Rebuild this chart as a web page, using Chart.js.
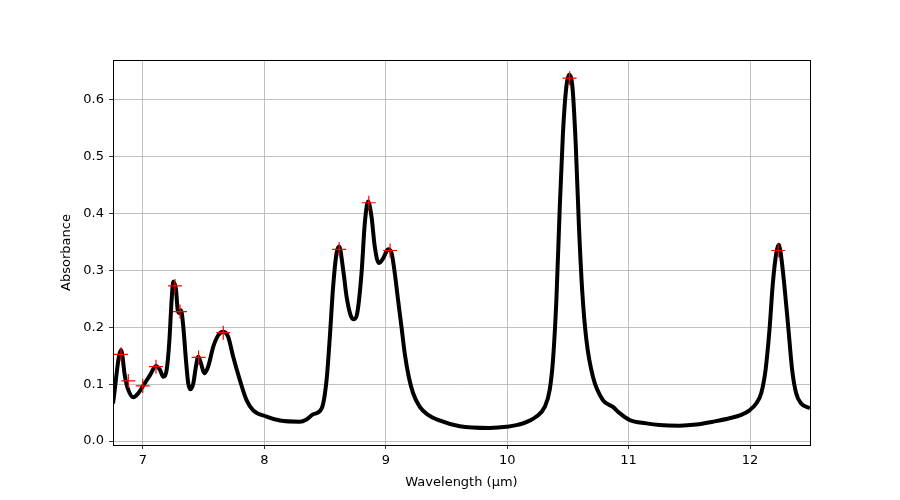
<!DOCTYPE html>
<html><head><meta charset="utf-8">
<script src="https://cdn.jsdelivr.net/npm/chart.js@4/dist/chart.umd.min.js"></script>
<style>html,body{margin:0;padding:0;background:#fff}canvas{display:block}</style>
</head><body>
<canvas id="c" width="900" height="500"></canvas>
<script>
const wavelength = [6.753,6.819,6.852,6.879,6.920,6.961,6.998,7.058,7.107,7.140,7.167,7.195,7.216,7.236,7.249,7.272,7.286,7.299,7.313,7.332,7.354,7.373,7.393,7.414,7.436,7.455,7.477,7.505,7.537,7.579,7.620,7.661,7.702,7.743,7.798,7.853,7.908,8.018,8.128,8.292,8.347,8.402,8.471,8.512,8.539,8.566,8.594,8.616,8.649,8.677,8.709,8.737,8.764,8.800,8.827,8.854,8.882,8.909,8.942,8.978,9.019,9.047,9.074,9.101,9.129,9.156,9.189,9.225,9.280,9.348,9.430,9.609,9.856,9.993,10.130,10.240,10.309,10.350,10.377,10.405,10.432,10.459,10.487,10.509,10.537,10.564,10.591,10.619,10.652,10.706,10.788,10.871,10.926,11.008,11.146,11.255,11.420,11.557,11.694,11.831,11.928,11.996,12.051,12.092,12.128,12.160,12.188,12.216,12.235,12.253,12.284,12.317,12.347,12.380,12.421,12.494];
const absorbance = [0.066,0.160,0.113,0.090,0.077,0.084,0.096,0.116,0.132,0.125,0.113,0.125,0.172,0.248,0.280,0.266,0.230,0.225,0.230,0.201,0.142,0.101,0.091,0.101,0.131,0.148,0.137,0.119,0.131,0.166,0.186,0.192,0.183,0.148,0.107,0.072,0.054,0.043,0.036,0.034,0.038,0.047,0.057,0.107,0.183,0.271,0.330,0.342,0.301,0.254,0.222,0.214,0.224,0.295,0.383,0.421,0.395,0.342,0.313,0.321,0.337,0.331,0.295,0.248,0.201,0.154,0.113,0.084,0.060,0.046,0.037,0.026,0.023,0.025,0.031,0.043,0.060,0.090,0.142,0.248,0.406,0.541,0.623,0.644,0.623,0.524,0.377,0.260,0.178,0.113,0.072,0.060,0.049,0.037,0.031,0.028,0.027,0.029,0.034,0.040,0.046,0.054,0.066,0.084,0.125,0.195,0.2775,0.330,0.345,0.330,0.271,0.195,0.125,0.084,0.066,0.0575];
const peakX = [6.819,6.879,6.998,7.107,7.263,7.305,7.458,7.661,8.616,8.860,9.035,10.514,12.232];
const peakY = [0.1525,0.1056,0.0968,0.1308,0.2727,0.2276,0.147,0.1906,0.337,0.419,0.335,0.638,0.335];
const xTicks = [7,8,9,10,11,12];
const yTicks = [0.0,0.1,0.2,0.3,0.4,0.5,0.6];
const xLabel = 'Wavelength (μm)';
const yLabel = 'Absorbance';

const frame = {
  id:'frame',
  afterDatasetsDraw(chart){
    const {ctx, chartArea:a} = chart;
    ctx.save(); ctx.strokeStyle='#000'; ctx.lineWidth=1;
    ctx.strokeRect(Math.round(a.left)+0.5, Math.round(a.top)+0.5, Math.round(a.right-a.left), Math.round(a.bottom-a.top));
    ctx.restore();
  }
};
const font = {family:'DejaVu Sans', size:13};
new Chart(document.getElementById('c'), {
  type:'line',
  data:{datasets:[
    {data: peakX.map((x,i)=>({x, y:peakY[i]})), showLine:false, pointStyle:'cross', pointRadius:7, pointBorderColor:'#ff0000', pointBorderWidth:1.2, borderColor:'#ff0000', order:0},
    {data: wavelength.map((x,i)=>({x, y:absorbance[i]})), borderColor:'#000', borderWidth:4, pointRadius:0, cubicInterpolationMode:'monotone', fill:false, order:1}
  ]},
  options:{
    responsive:false, animation:false, devicePixelRatio:1,
    layout:{padding:{left:55, right:90, top:60, bottom:0}},
    plugins:{legend:{display:false}, tooltip:{enabled:false}},
    scales:{
      x:{type:'linear', min:6.753, max:12.494,
        afterBuildTicks(s){ s.ticks = xTicks.map(v=>({value:v})); },
        afterFit(s){ s.height = 55; },
        grid:{color:'#b0b0b0', lineWidth:0.8, tickColor:'#000', tickLength:4, drawTicks:true},
        border:{display:false},
        ticks:{color:'#000', font, padding:4, maxRotation:0, callback:v=>String(v)},
        title:{display:true, text:xLabel, color:'#000', font, padding:{top:4,bottom:10}}
      },
      y:{type:'linear', min:-0.007, max:0.670,
        afterBuildTicks(s){ s.ticks = yTicks.map(v=>({value:v})); },
        afterFit(s){ s.width = 58; },
        grid:{color:'#b0b0b0', lineWidth:0.8, tickColor:'#000', tickLength:4},
        border:{display:false},
        ticks:{color:'#000', font, padding:5, callback:v=>Number(v).toFixed(1)},
        title:{display:true, text:yLabel, color:'#000', font, padding:{top:4,bottom:0}}
      }
    }
  },
  plugins:[frame]
});
</script>
</body></html>
